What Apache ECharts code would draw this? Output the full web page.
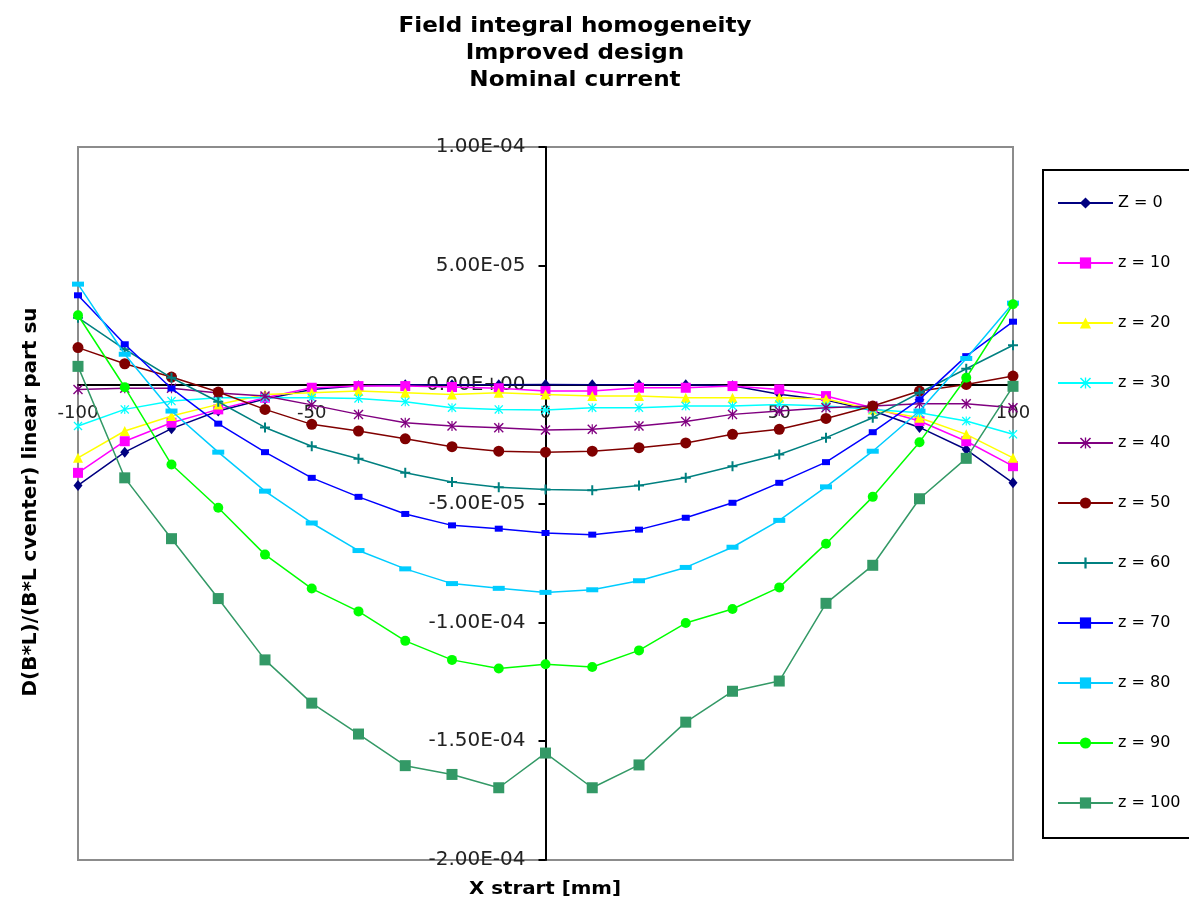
<!DOCTYPE html>
<html>
<head>
<meta charset="utf-8">
<script src="https://cdn.jsdelivr.net/npm/echarts@6/dist/echarts.min.js"></script>
<style>html,body{margin:0;padding:0;background:#fff;}#c{width:1189px;height:902px;}</style>
</head>
<body>
<div id="c"></div>
<script>
// X positions [mm]
const xStart = [-100, -90, -80, -70, -60, -50, -40, -30, -20, -10, 0, 10, 20, 30, 40, 50, 60, 70, 80, 90, 100];
// values in units of 1e-5
const UNIT = 1e-5;
const z0   = [-4.24, -2.84, -1.85, -1.11, -0.60, -0.20, -0.05, 0.00, 0.00, 0.00, 0.01, 0.00, 0.00, 0.00, -0.05, -0.40, -0.65, -1.10, -1.80, -2.73, -4.13];
const z10  = [-3.71, -2.38, -1.60, -1.04, -0.55, -0.13, -0.06, -0.06, -0.10, -0.15, -0.27, -0.27, -0.13, -0.13, -0.06, -0.20, -0.48, -0.97, -1.53, -2.38, -3.43];
const z20  = [-3.08, -1.95, -1.32, -0.83, -0.41, -0.34, -0.27, -0.34, -0.41, -0.34, -0.41, -0.48, -0.48, -0.55, -0.55, -0.55, -0.60, -1.04, -1.39, -2.09, -3.08];
const z30  = [-1.74, -1.04, -0.69, -0.55, -0.55, -0.55, -0.58, -0.72, -0.97, -1.04, -1.07, -0.97, -0.97, -0.90, -0.90, -0.83, -0.90, -1.05, -1.18, -1.53, -2.09];
const z40  = [-0.20, -0.15, -0.15, -0.35, -0.48, -0.85, -1.25, -1.60, -1.74, -1.81, -1.91, -1.88, -1.74, -1.55, -1.25, -1.11, -0.97, -0.90, -0.80, -0.80, -0.97];
const z50  = [1.56, 0.88, 0.32, -0.31, -1.04, -1.67, -1.95, -2.28, -2.61, -2.80, -2.84, -2.80, -2.65, -2.45, -2.09, -1.88, -1.42, -0.90, -0.27, 0.01, 0.36];
const z60  = [2.82, 1.49, 0.29, -0.72, -1.80, -2.59, -3.12, -3.71, -4.10, -4.32, -4.41, -4.44, -4.24, -3.92, -3.43, -2.94, -2.23, -1.39, -0.34, 0.67, 1.66];
const z70  = [3.76, 1.70, -0.16, -1.64, -2.84, -3.92, -4.72, -5.44, -5.92, -6.06, -6.24, -6.31, -6.10, -5.60, -4.97, -4.13, -3.26, -2.00, -0.62, 1.20, 2.65];
const z80  = [4.23, 1.28, -1.11, -2.84, -4.48, -5.82, -6.98, -7.75, -8.37, -8.57, -8.74, -8.63, -8.25, -7.69, -6.84, -5.71, -4.30, -2.80, -1.11, 1.10, 3.43];
const z90  = [2.92, -0.11, -3.36, -5.18, -7.15, -8.58, -9.54, -10.78, -11.58, -11.94, -11.76, -11.88, -11.18, -10.03, -9.44, -8.53, -6.69, -4.72, -2.42, 0.29, 3.38];
const z100 = [0.77, -3.92, -6.48, -9.00, -11.58, -13.40, -14.70, -16.03, -16.40, -16.96, -15.50, -16.96, -16.00, -14.20, -12.90, -12.47, -9.20, -7.60, -4.80, -3.10, -0.07];

const seriesNames = ['Z = 0', 'z = 10', 'z = 20', 'z = 30', 'z = 40', 'z = 50', 'z = 60', 'z = 70', 'z = 80', 'z = 90', 'z = 100'];
const seriesValues = [z0, z10, z20, z30, z40, z50, z60, z70, z80, z90, z100];
const yTicks = { min: -2e-4, max: 1e-4, interval: 5e-5 };
const xTicks = { min: -100, max: 100, interval: 50 };

const PLUS = 'path://M4,0H6V4H10V6H6V10H4V6H0V4H4Z';
const STAR = 'path://M1,0L4.4,3.4V0H5.6V3.4L9,0L10,1L6,5L10,9L9,10L5.6,6.6V10H4.4V6.6L1,10L0,9L4,5L0,1Z';

const styles = [
  { color: '#000080', symbol: 'diamond', size: [9, 11] },
  { color: '#FF00FF', symbol: 'rect', size: 10 },
  { color: '#FFFF00', symbol: 'triangle', size: 10 },
  { color: '#00FFFF', symbol: STAR, size: 9 },
  { color: '#800080', symbol: STAR, size: 10 },
  { color: '#800000', symbol: 'circle', size: 11 },
  { color: '#008080', symbol: PLUS, size: 10 },
  { color: '#0000FF', symbol: 'rect', size: [8, 6] },
  { color: '#00CCFF', symbol: 'rect', size: [12, 5] },
  { color: '#00FF00', symbol: 'circle', size: 10 },
  { color: '#339966', symbol: 'rect', size: 11 }
];

function fmtE(v) {
  if (Math.abs(v) < 1e-15) return '0.00E+00';
  const s = v.toExponential(2);
  const parts = s.split('e');
  const n = parseInt(parts[1], 10);
  const a = Math.abs(n);
  return parts[0] + 'E' + (n < 0 ? '-' : '+') + (a < 10 ? '0' : '') + a;
}

const FONT = 'DejaVu Sans';

// grid geometry (pixels)
const G = { left: 78, right: 176, top: 147, bottom: 42, W: 1189, H: 902 };
const plotW = G.W - G.left - G.right;
const plotH = G.H - G.top - G.bottom;
// place the axes through zero (crossing axes) via offsets computed from the axis ranges
const xZeroOffset = -plotW * (0 - xTicks.min) / (xTicks.max - xTicks.min);
const yZeroOffset = -plotH * (0 - yTicks.min) / (yTicks.max - yTicks.min);

const series = seriesNames.map((name, i) => ({
  name: name,
  type: 'line',
  data: xStart.map((x, j) => [x, seriesValues[i][j] * UNIT]),
  symbol: styles[i].symbol,
  symbolSize: styles[i].size,
  showAllSymbol: true,
  lineStyle: { color: styles[i].color, width: 1.5 },
  itemStyle: { color: styles[i].color, borderWidth: 0 },
  emphasis: { disabled: true },
  z: 3 + i
}));

const chart = echarts.init(document.getElementById('c'), null, { renderer: 'canvas' });
chart.setOption({
  animation: false,
  backgroundColor: '#fff',
  grid: { left: G.left, right: G.right, top: G.top, bottom: G.bottom, containLabel: false, outerBoundsMode: 'none', show: true, borderColor: '#8c8c8c', borderWidth: 2, backgroundColor: 'transparent' },
  xAxis: {
    type: 'value', min: xTicks.min, max: xTicks.max, interval: xTicks.interval,
    position: 'bottom', offset: yZeroOffset,
    axisLine: { onZero: false, lineStyle: { color: '#000', width: 2 } },
    axisTick: { show: false },
    splitLine: { show: false },
    axisLabel: { margin: 20, color: '#222', fontFamily: FONT, fontSize: 18 }
  },
  yAxis: {
    type: 'value', min: yTicks.min, max: yTicks.max, interval: yTicks.interval,
    position: 'left', offset: xZeroOffset,
    axisLine: { onZero: false, lineStyle: { color: '#000', width: 2 } },
    axisTick: { show: true, inside: false, length: 7, lineStyle: { color: '#000', width: 2 } },
    splitLine: { show: false },
    axisLabel: { margin: 20, color: '#222', fontFamily: FONT, fontSize: 20, formatter: fmtE }
  },
  legend: {
    orient: 'vertical',
    left: 1043, top: 170,
    padding: [25, 24, 27, 14],
    itemWidth: 55, itemHeight: 14, itemGap: 44,
    borderColor: '#000', borderWidth: 2,
    backgroundColor: '#fff',
    textStyle: { fontFamily: FONT, fontSize: 16, color: '#000', lineHeight: 16 },
    data: seriesNames,
    selectedMode: false
  },
  graphic: [
    { type: 'text', x: 575, y: 27, scaleX: 1.1, style: { text: 'Field integral homogeneity', font: 'bold 21px "DejaVu Sans"', fill: '#000', align: 'center', verticalAlign: 'middle' } },
    { type: 'text', x: 575, y: 54, scaleX: 1.1, style: { text: 'Improved design', font: 'bold 21px "DejaVu Sans"', fill: '#000', align: 'center', verticalAlign: 'middle' } },
    { type: 'text', x: 575, y: 81, scaleX: 1.1, style: { text: 'Nominal current', font: 'bold 21px "DejaVu Sans"', fill: '#000', align: 'center', verticalAlign: 'middle' } },
    { type: 'text', x: 545, y: 889, scaleX: 1.1, style: { text: 'X strart [mm]', font: 'bold 18px "DejaVu Sans"', fill: '#000', align: 'center', verticalAlign: 'middle' } },
    { type: 'text', x: 31, y: 502, rotation: Math.PI / 2, style: { text: 'D(B*L)/(B*L cventer) linear part su', font: 'bold 20px "DejaVu Sans"', fill: '#000', align: 'center', verticalAlign: 'middle' } }
  ],
  series: series
});
</script>
</body>
</html>
